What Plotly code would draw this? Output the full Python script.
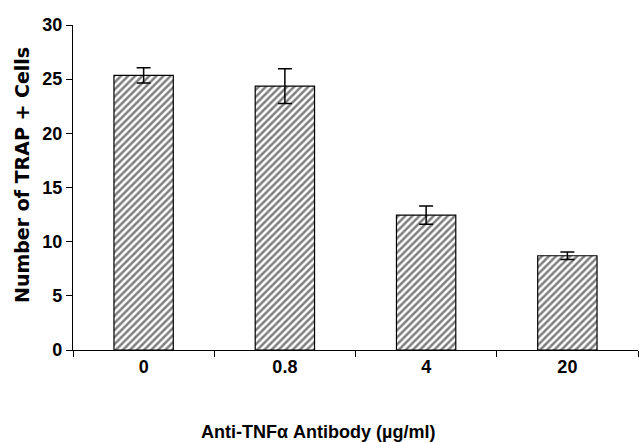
import plotly.graph_objects as go

categories = ["0", "0.8", "4", "20"]
values = [25.35, 24.35, 12.45, 8.7]
errors = [0.7, 1.6, 0.85, 0.35]
y_ticks = [0, 5, 10, 15, 20, 25, 30]

fig = go.Figure()
fig.add_trace(go.Bar(
    x=categories, y=values,
    width=0.42,
    marker=dict(
        color="white",
        line=dict(color="black", width=1.2),
        pattern=dict(shape="/", fgcolor="black", bgcolor="white", size=5, solidity=0.5),
    ),
    error_y=dict(type="data", array=errors, visible=True, color="black", thickness=1.5, width=7),
))

tickfont = dict(family="Liberation Sans", size=18, color="black", weight="bold")

L, R, T, B = 73, 1, 25, 92
W, H = 639, 442
plot_w = W - L - R
plot_h = H - T - B

fig.update_layout(
    width=W, height=H,
    margin=dict(l=L, r=R, t=T, b=B),
    paper_bgcolor="white", plot_bgcolor="white",
    showlegend=False,
    xaxis=dict(
        type="category", automargin=False,
        showline=True, linecolor="black", linewidth=1.2,
        ticks="outside", ticklen=6, tickcolor="black", tickwidth=1.2,
        tickson="boundaries",
        tickfont=tickfont,
        showgrid=False,
    ),
    yaxis=dict(
        range=[0, 30], tickvals=y_ticks, automargin=False,
        showline=True, linecolor="black", linewidth=1.2,
        ticks="outside", ticklen=6, tickcolor="black", tickwidth=1.2,
        tickfont=tickfont,
        showgrid=False, zeroline=False,
    ),
    annotations=[
        dict(text="Anti-TNFα Antibody (µg/ml)",
             x=(318 - L) / plot_w, y=(H - B - 432) / plot_h, xref="paper", yref="paper",
             showarrow=False, font=tickfont, xanchor="center", yanchor="middle"),
        dict(text="Number of TRAP + Cells", textangle=-90,
             x=(22 - L) / plot_w, y=(H - B - 175) / plot_h, xref="paper", yref="paper",
             showarrow=False, font=dict(family="DejaVu Sans", size=19, color="black", weight="bold"),
             xanchor="center", yanchor="middle"),
    ],
)

fig.write_html("out.html", config={"displayModeBar": False},
               post_script="document.body.style.margin='0px';document.body.style.padding='0px';")
